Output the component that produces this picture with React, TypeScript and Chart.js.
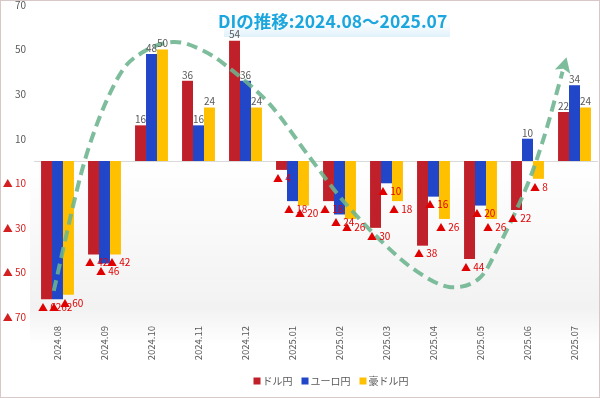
import { useEffect, useRef } from "react";
import { Chart, registerables } from "chart.js";
Chart.register(...registerables);

const categories = ["2024.08", "2024.09", "2024.10", "2024.11", "2024.12", "2025.01", "2025.02", "2025.03", "2025.04", "2025.05", "2025.06", "2025.07"];
const usdJpy = [-62, -42, 16, 36, 54, -4, -18, -30, -38, -44, -22, 22];
const eurJpy = [-62, -46, 48, 16, 36, -18, -24, -10, -16, -20, 10, 34];
const audJpy = [-60, -42, 50, 24, 24, -20, -26, -18, -26, -26, -8, 24];
const seriesNames = ["ドル円", "ユーロ円", "豪ドル円"];
const seriesColors = ["#c0202a", "#2146c7", "#ffc000"];
const titleText = "DIの推移:2024.08～2025.07";
// decorative trend arrow, in data space: category index / DI value
const trendX = [-0.08, 0.59, 1.27, 1.82, 2.46, 3.03, 3.6, 4.51, 5.36, 6.1, 6.95, 7.63, 8.33, 8.96, 9.39, 9.96, 10.34, 10.66, 10.83];
const trendY = [-58.3, 0.9, 36.8, 48.9, 53.4, 50.2, 42.6, 25.6, 1.8, -18.4, -37.2, -49.3, -56.5, -52.9, -38.1, -12.6, 9.9, 33.6, 46.6];

const FONT = "'Noto Sans CJK JP', 'Noto Sans', sans-serif";
const GRAY = "#595959";
const RED = "#e00000";

const decor = {
  id: "decor",
  beforeDraw(chart: any) {
    const { ctx, width, height } = chart;
    ctx.save();
    ctx.fillStyle = "#ffffff";
    ctx.fillRect(0, 0, width, height);
    const g = ctx.createLinearGradient(0, 160, 0, 345);
    g.addColorStop(0, "rgba(242,242,242,0)");
    g.addColorStop(0.8, "rgba(242,242,242,1)");
    g.addColorStop(1, "rgba(242,242,242,0)");
    ctx.fillStyle = g;
    ctx.fillRect(30, 160, width - 30, 185);
    ctx.strokeStyle = "#d8c8c8";
    ctx.lineWidth = 1;
    ctx.strokeRect(0.5, 0.5, width - 1, height - 1);
    ctx.restore();
  },
  beforeDatasetsDraw(chart: any) {
    const { ctx, chartArea } = chart;
    const y = chart.scales.y;
    ctx.save();
    // title box
    const tb = ctx.createLinearGradient(0, 6, 0, 38);
    tb.addColorStop(0, "rgba(255,255,255,0)");
    tb.addColorStop(0.6, "rgba(244,250,254,0.8)");
    tb.addColorStop(1, "rgba(222,240,250,1)");
    ctx.fillStyle = tb;
    ctx.fillRect(224, 6, 226, 31);
    ctx.font = `bold 16px ${FONT}`;
    const w = ctx.measureText(titleText).width;
    const scale = 229 / w;
    ctx.font = `bold ${(16 * scale).toFixed(1)}px ${FONT}`;
    ctx.fillStyle = "#1ba6de";
    ctx.textAlign = "left";
    ctx.textBaseline = "middle";
    ctx.fillText(titleText, 218, 21);
    // zero line
    const zy = Math.round(y.getPixelForValue(0)) + 0.5;
    ctx.strokeStyle = "#d9d9d9";
    ctx.lineWidth = 1;
    ctx.beginPath();
    ctx.moveTo(chartArea.left, zy);
    ctx.lineTo(chartArea.right, zy);
    ctx.stroke();
    ctx.restore();
  },
  afterDatasetsDraw(chart: any) {
    const { ctx } = chart;
    const xs = chart.scales.x;
    const ys = chart.scales.y;
    ctx.save();
    // trend curve
    const pts = trendX.map((v, i) => ({ x: xs.getPixelForValue(v), y: ys.getPixelForValue(trendY[i]) }));
    const tip = pts[pts.length - 1];
    const prev = pts[pts.length - 2];
    const dx = tip.x - prev.x, dy = tip.y - prev.y;
    const len = Math.hypot(dx, dy);
    const ux = dx / len, uy = dy / len;
    const headLen = 15, headW = 8;
    const base = { x: tip.x - ux * headLen, y: tip.y - uy * headLen };
    const path = pts.slice(0, -1).concat([base]);
    const color = "rgba(108,180,142,0.88)";
    ctx.strokeStyle = color;
    ctx.lineWidth = 4;
    ctx.setLineDash([11, 6]);
    ctx.beginPath();
    ctx.moveTo(path[0].x, path[0].y);
    for (let i = 0; i < path.length - 1; i++) {
      const p0 = path[Math.max(0, i - 1)];
      const p1 = path[i];
      const p2 = path[i + 1];
      const p3 = path[Math.min(path.length - 1, i + 2)];
      ctx.bezierCurveTo(
        p1.x + (p2.x - p0.x) / 6, p1.y + (p2.y - p0.y) / 6,
        p2.x - (p3.x - p1.x) / 6, p2.y - (p3.y - p1.y) / 6,
        p2.x, p2.y
      );
    }
    ctx.stroke();
    ctx.setLineDash([]);
    ctx.fillStyle = color;
    ctx.beginPath();
    ctx.moveTo(tip.x, tip.y);
    ctx.lineTo(base.x - uy * headW, base.y + ux * headW);
    ctx.lineTo(base.x + ux * 3, base.y + uy * 3);
    ctx.lineTo(base.x + uy * headW, base.y - ux * headW);
    ctx.closePath();
    ctx.fill();

    // value labels
    chart.data.datasets.forEach((ds: any, di: number) => {
      const meta = chart.getDatasetMeta(di);
      meta.data.forEach((bar: any, j: number) => {
        const v = ds.data[j];
        ctx.font = `10px ${FONT}`;
        if (v >= 0) {
          ctx.fillStyle = GRAY;
          ctx.textAlign = "center";
          ctx.textBaseline = "bottom";
          ctx.fillText(String(v), bar.x, bar.y - 1);
        } else {
          ctx.fillStyle = RED;
          ctx.textAlign = "left";
          ctx.textBaseline = "top";
          ctx.fillText("▲ " + Math.abs(v), bar.x - bar.width / 2 - 3, bar.y + 3);
        }
      });
    });

    ctx.restore();
  },
  afterDraw(chart: any) {
    const { ctx } = chart;
    ctx.save();
    ctx.font = `10px ${FONT}`;
    ctx.textBaseline = "middle";
    ctx.textAlign = "left";
    const box = 7, gap = 2, itemGap = 9;
    const widths = seriesNames.map((n) => box + gap + ctx.measureText(n).width);
    const total = widths.reduce((a, b) => a + b, 0) + itemGap * (seriesNames.length - 1);
    let x = 331 - total / 2;
    const cy = 381;
    seriesNames.forEach((n, i) => {
      ctx.fillStyle = seriesColors[i];
      ctx.fillRect(x, cy - box / 2, box, box);
      ctx.fillStyle = GRAY;
      ctx.fillText(n, x + box + gap, cy);
      x += widths[i] + itemGap;
    });
    ctx.restore();
  },
};

export default function App() {
  const ref = useRef<HTMLCanvasElement>(null);
  useEffect(() => {
    const chart = new Chart(ref.current!, {
      type: "bar",
      data: {
        labels: categories,
        datasets: [usdJpy, eurJpy, audJpy].map((d, i) => ({
          label: seriesNames[i],
          data: d,
          backgroundColor: seriesColors[i],
          borderWidth: 0,
          categoryPercentage: 0.7,
          barPercentage: 1.0,
        })),
      },
      options: {
        responsive: false,
        animation: false,
        devicePixelRatio: 1,
        layout: { padding: { top: 5, right: 2, left: 0, bottom: 32 } },
        plugins: { legend: { display: false }, tooltip: { enabled: false }, title: { display: false } },
        scales: {
          x: {
            grid: { display: false, drawTicks: false },
            border: { display: false },
            ticks: {
              maxRotation: 90,
              minRotation: 90,
              padding: 9,
              color: GRAY,
              font: { size: 9.5, family: FONT },
            },
            afterFit(axis: any) {
              axis.height = 49;
              axis.paddingLeft = 0;
              axis.paddingRight = 0;
            },
          },
          y: {
            min: -70,
            max: 70,
            grid: { display: false, drawTicks: false },
            border: { display: false },
            ticks: {
              stepSize: 20,
              padding: 8,
              font: { size: 10, family: FONT },
              color: (c: any) => (c.tick && c.tick.value < 0 ? "#d42020" : GRAY),
              callback: (v: any) => (Number(v) < 0 ? "▲ " + Math.abs(Number(v)) : String(v)),
            },
            afterFit(axis: any) {
              axis.width = 34;
              axis.paddingTop = 0;
              axis.paddingBottom = 0;
            },
          },
        },
      },
      plugins: [decor],
    });
    return () => chart.destroy();
  }, []);
  return (
    <div style={{ position: "absolute", left: 0, top: 0, width: 600, height: 398 }}>
      <canvas ref={ref} width={600} height={398} style={{ width: 600, height: 398, display: "block" }} />
    </div>
  );
}
